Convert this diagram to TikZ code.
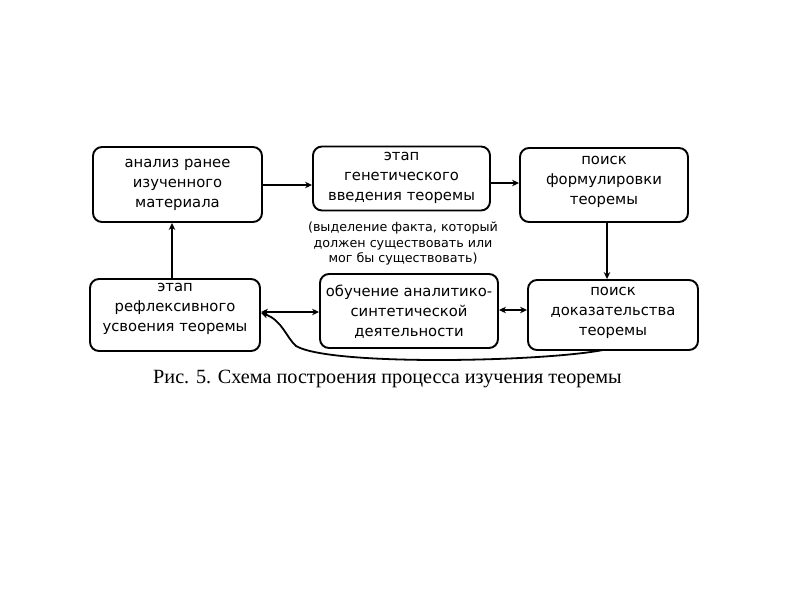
\documentclass[tikz,border=0pt]{standalone}
\usepackage{fontspec}
\setmainfont{DejaVu Sans}
\newfontfamily\capfont{Liberation Serif}
\usetikzlibrary{arrows.meta}
\tikzset{
  box/.style={draw=black, line width=1.9pt, rounded corners=9pt, fill=white, inner sep=0pt},
  txt/.style={align=center, font=\fontsize{14.8}{20}\selectfont, inner sep=0pt},
  conn/.style={line width=1.8pt, -{Stealth[length=7pt,width=6.5pt]}},
  biconn/.style={line width=1.8pt, {Stealth[length=7pt,width=6.5pt]}-{Stealth[length=7pt,width=6.5pt]}},
}
\begin{document}
\begin{tikzpicture}[x=1pt,y=-1pt]
\useasboundingbox[fill=white] (0,0) rectangle (794,595);
% boxes
\node[box, minimum width=169pt, minimum height=75pt] (A) at (177.5,184.5) {};
\node[txt] (At) at (177.5,185) {анализ ранее\\изученного\\материала};
\node[box, minimum width=177pt, minimum height=64pt] (B) at (401.5,178.5) {};
\node[txt] (Bt) at (401.5,178) {этап\\генетического\\введения теоремы};
\node[box, minimum width=168pt, minimum height=74pt] (C) at (604,185) {};
\node[txt] (Ct) at (604,182) {поиск\\формулировки\\теоремы};
\node[box, minimum width=170pt, minimum height=72pt] (D) at (175,315) {};
\node[txt] (Dt) at (175,309) {этап\\рефлексивного\\усвоения теоремы};
\node[box, minimum width=178pt, minimum height=74pt] (E) at (409,311) {};
\node[txt] (Et) at (409,312) {обучение аналитико-\\синтетической\\деятельности};
\node[box, minimum width=170pt, minimum height=70pt] (F) at (613,315) {};
\node[txt] (Ft) at (613,313) {поиск\\доказательства\\теоремы};
% note
\node[align=center, font=\fontsize{12.7}{15.5}\selectfont, inner sep=0pt] (note) at (403,243.5)
  {(выделение факта, который\\должен существовать или\\мог бы существовать)};
% caption
\node[font=\capfont\fontsize{20.2}{22}\selectfont, inner sep=0pt] (cap) at (387.5,379)
  {Рис. 5. Схема построения процесса изучения теоремы};
% connectors
\draw[conn] (A.east |- 0,185) -- (B.west |- 0,185);
\draw[conn] (B.east |- 0,183) -- (C.west |- 0,183);
\coordinate (c1) at (607,0);
\draw[conn] (C.south -| c1) -- (F.north -| c1);
\coordinate (d1) at (172,0);
\draw[conn] (D.north -| d1) -- (A.south -| d1);
\draw[biconn] (E.west |- 0,312) -- (D.east |- 0,312);
\draw[biconn] (E.east |- 0,310) -- (F.west |- 0,310);
\coordinate (fs) at (603,350);
\coordinate (de) at (261,313);
\draw[conn] (fs) .. controls (540,362) and (330,366) .. (296,346)
  .. controls (286,337) and (282,320) .. (de);
\end{tikzpicture}
\end{document}
